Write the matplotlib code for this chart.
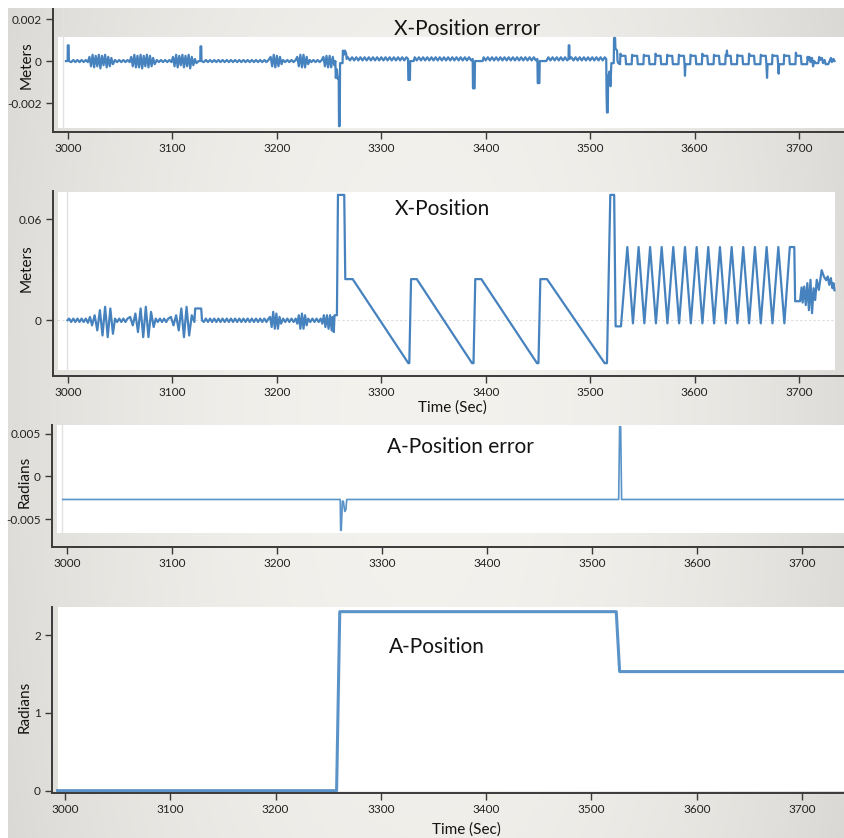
import numpy as np
import matplotlib.pyplot as plt
from matplotlib.patches import Rectangle

plt.rcParams['font.family'] = ['Lato', 'DejaVu Sans']
plt.rcParams['axes.unicode_minus'] = False

# ---- data ----
# X-Position error, (time s, error in 1e-4 m)
xerr_pts = [
    (2998.0, 0.0), (2999.6, 0.0), (2999.8, 7.5), (3000.6, 7.5), (3000.8, 0.0),
    (3003, -0.5), (3005, 0.5), (3007, -0.5), (3009, 0.5), (3011, -0.5),
    (3013, 0.5), (3015, -0.5), (3017, 0.5), (3019, -0.5),
    (3020.5, 2.0), (3022, -2.5), (3023.5, 3.0), (3025, -3.0), (3026.5, 2.5),
    (3028, -2.5), (3029.5, 3.0), (3031, -3.5), (3032.5, 2.5), (3034, -2.0),
    (3035.5, 3.0), (3037, -3.0), (3038.5, 2.0), (3040, -2.5), (3041.5, 1.5),
    (3043, -1.5),
    (3045, 0.5), (3047, -0.5), (3049, 0.5), (3051, -0.5), (3053, 0.5),
    (3055, -0.5), (3057, 0.5), (3059, -0.5),
    (3060.5, 2.0), (3062, -2.5), (3063.5, 3.0), (3065, -3.0), (3066.5, 2.5),
    (3068, -3.0), (3069.5, 3.0), (3071, -3.5), (3072.5, 2.5), (3074, -2.5),
    (3075.5, 3.0), (3077, -3.0), (3078.5, 2.5), (3080, -2.5), (3081.5, 1.5),
    (3083, -1.5),
    (3085, 0.5), (3087, -0.5), (3089, 0.5), (3091, -0.5), (3093, 0.5),
    (3095, -0.5), (3097, 0.5), (3099, -0.5),
    (3100.5, 2.0), (3102, -2.5), (3103.5, 3.0), (3105, -3.0), (3106.5, 2.5),
    (3108, -2.0), (3109.5, 3.0), (3111, -3.0), (3112.5, 2.5), (3114, -2.5),
    (3115.5, 3.0), (3117, -3.5), (3118.5, 2.0), (3120, -2.0), (3121.5, 1.0),
    (3123, -1.0), (3125, 0.0),
    (3126.6, 0.0), (3126.8, 7.0), (3127.6, 7.0), (3127.8, 0.0),
    (3130, -0.5), (3132, 0.5), (3134, -0.5), (3136, 0.5), (3138, -0.5),
    (3140, 0.5), (3142, -0.5), (3144, 0.5), (3146, -0.5), (3148, 0.5),
    (3150, -0.5), (3152, 0.5), (3154, -0.5), (3156, 0.5), (3158, -0.5),
    (3160, 0.5), (3162, -0.5), (3164, 0.5), (3166, -0.5), (3168, 0.5),
    (3170, -0.5), (3172, 0.5), (3174, -0.5), (3176, 0.5), (3178, -0.5),
    (3180, 0.5), (3182, -0.5), (3184, 0.5), (3186, -0.5), (3188, 0.5),
    (3190, -0.5), (3192, 0.5),
    (3194, 2.0), (3195.5, -2.5), (3197, 3.0), (3198.5, -3.0), (3200, 2.5),
    (3201.5, -2.5), (3203, 2.0), (3204.5, -1.5), (3206, 0.5),
    (3208, -0.5), (3210, 0.5), (3212, -0.5), (3214, 0.5), (3216, -0.5), (3218, 0.5),
    (3219.5, 2.0), (3221, -2.5), (3222.5, 3.0), (3224, -3.0), (3225.5, 3.0),
    (3227, -3.0), (3228.5, 2.0), (3230, -1.5), (3231.5, 0.5),
    (3233, -0.5), (3235, 0.5), (3237, -0.5), (3239, 0.5), (3241, -0.5), (3243, 0.5),
    (3244.5, 2.0), (3246, -2.5), (3247.5, 2.5), (3249, -3.0), (3250.5, 2.5),
    (3252, -3.0), (3253.5, 2.0), (3255, -2.0), (3256, 0.0),
    (3256.4, -8.0), (3257.5, -4.0), (3258.3, -8.5), (3259.2, -8.0), (3259.5, -31.0),
    (3260.2, -31.0), (3260.5, -1.0), (3262.9, -1.0), (3263.2, 5.0), (3264.2, 3.0),
    (3265.2, 5.0), (3266.4, 3.5), (3266.8, 1.0),
    (3268, 1.8), (3270, 0.3), (3272, 1.8), (3274, 0.3), (3276, 1.8), (3278, 0.3),
    (3280, 1.8), (3282, 0.3), (3284, 1.8), (3286, 0.3), (3288, 1.8), (3290, 0.3),
    (3292, 1.8), (3294, 0.3), (3296, 1.8), (3298, 0.3), (3300, 1.8), (3302, 0.3),
    (3304, 1.8), (3306, 0.3), (3308, 1.8), (3310, 0.3), (3312, 1.8), (3314, 0.3),
    (3316, 1.8), (3318, 0.3), (3320, 1.8), (3322, 0.3), (3324, 1.8),
    (3325.6, 1.0), (3325.9, -9.0), (3327.4, -9.0), (3327.7, 0.0), (3331, 0.0),
    (3332, 1.8), (3334, 0.3), (3336, 1.8), (3338, 0.3), (3340, 1.8), (3342, 0.3),
    (3344, 1.8), (3346, 0.3), (3348, 1.8), (3350, 0.3), (3352, 1.8), (3354, 0.3),
    (3356, 1.8), (3358, 0.3), (3360, 1.8), (3362, 0.3), (3364, 1.8), (3366, 0.3),
    (3368, 1.8), (3370, 0.3), (3372, 1.8), (3374, 0.3), (3376, 1.8), (3378, 0.3),
    (3380, 1.8), (3382, 0.3), (3384, 1.8), (3386, 0.3),
    (3387.5, 1.0), (3387.8, -13.0), (3389.4, -13.0), (3389.7, 0.0), (3397, 0.0),
    (3398, 1.8), (3400, 0.3), (3402, 1.8), (3404, 0.3), (3406, 1.8), (3408, 0.3),
    (3410, 1.8), (3412, 0.3), (3414, 1.8), (3416, 0.3), (3418, 1.8), (3420, 0.3),
    (3422, 1.8), (3424, 0.3), (3426, 1.8), (3428, 0.3), (3430, 1.8), (3432, 0.3),
    (3434, 1.8), (3436, 0.3), (3438, 1.8), (3440, 0.3), (3442, 1.8), (3444, 0.3),
    (3446, 1.8), (3448, 0.3),
    (3449.5, 1.0), (3449.8, -10.5), (3451.4, -10.5), (3451.7, 0.0), (3458, 0.0),
    (3460, 1.8), (3462, 0.3), (3464, 1.8), (3466, 0.3), (3468, 1.8), (3470, 0.3),
    (3472, 1.8), (3474, 0.3), (3476, 1.8), (3478, 0.3),
    (3479.3, 1.0), (3479.5, 7.5), (3480.1, 7.5), (3480.3, 1.0),
    (3482, 1.8), (3484, 0.3), (3486, 1.8), (3488, 0.3), (3490, 1.8), (3492, 0.3),
    (3494, 1.8), (3496, 0.3), (3498, 1.8), (3500, 0.3), (3502, 1.8), (3504, 0.3),
    (3506, 1.8), (3508, 0.3), (3510, 1.8), (3512, 0.3), (3514, 1.8),
    (3515.4, 1.0), (3515.7, -15.0), (3516.1, -24.5), (3516.9, -24.5), (3517.2, -8.0),
    (3518.5, -5.0), (3519.5, -12.0), (3520.3, -1.0), (3522.6, -1.0), (3522.9, 11.0),
    (3523.9, 11.0), (3524.2, 6.0), (3525.8, 5.0), (3526.2, 0.0),
    (3527, -1.0), (3528.6, -1.5),
    (3529.0, 3.5), (3529.8, 2.5), (3533.8, 2.5), (3534.4, -1.5), (3539.8, -1.5),
    (3540.2, 3.0), (3541.0, 2.5), (3545.0, 2.5), (3545.6, -1.5), (3551.0, -1.5),
    (3551.4, 3.0), (3552.2, 2.5), (3556.2, 2.5), (3556.8, -1.5), (3562.2, -1.5),
    (3562.6, 3.5), (3563.4, 2.5), (3567.4, 2.5), (3568.0, -1.5), (3573.4, -1.5),
    (3573.8, 3.0), (3574.6, 2.5), (3578.6, 2.5), (3579.2, -1.5), (3584.6, -1.5),
    (3585.0, 3.0), (3585.8, 2.5), (3589.8, 2.5), (3590.4, -1.5), (3590.8, -7.0),
    (3591.3, -1.5), (3595.8, -1.5),
    (3596.2, 3.0), (3597.0, 2.5), (3601.0, 2.5), (3601.6, -1.5), (3607.0, -1.5),
    (3607.4, 3.5), (3608.2, 2.5), (3612.2, 2.5), (3612.8, -1.5), (3618.2, -1.5),
    (3618.6, 3.0), (3619.4, 2.5), (3623.4, 2.5), (3624.0, -1.5), (3629.4, -1.5),
    (3629.8, 3.0), (3630.6, 2.5), (3631.0, 5.0), (3631.4, 2.5), (3634.6, 2.5),
    (3635.2, -1.5), (3640.6, -1.5),
    (3641.0, 3.0), (3641.8, 2.5), (3645.8, 2.5), (3646.4, -1.5), (3651.8, -1.5),
    (3652.2, 3.5), (3653.0, 2.5), (3657.0, 2.5), (3657.6, -1.5), (3663.0, -1.5),
    (3663.4, 3.0), (3664.2, 2.5), (3668.2, 2.5), (3668.8, -1.5), (3669.4, -8.0),
    (3669.9, -1.5), (3674.2, -1.5),
    (3674.6, 3.0), (3675.4, 2.5), (3679.4, 2.5), (3680.0, -1.5), (3680.5, -6.0),
    (3681.0, -1.5), (3685.4, -1.5),
    (3685.8, 3.0), (3686.6, 2.5), (3690.6, 2.5), (3691.2, -1.5), (3696.6, -1.5),
    (3697.0, 4.0), (3697.8, 2.5), (3701.8, 2.5), (3702.4, -1.5), (3707.8, -1.5),
    (3708.2, 2.0), (3709.0, 0.5), (3710.0, 2.0), (3711.0, -0.5), (3712.5, 1.5),
    (3713.5, -2.5), (3714.5, 0.0), (3716.0, -1.0), (3718.5, -1.0),
    (3719.4, 2.0), (3720.2, 0.5), (3722.0, 1.5), (3723.0, -1.0), (3724.5, 0.5),
    (3725.5, -1.5), (3728.0, -1.5), (3730.6, 1.5), (3731.5, -0.5), (3733.0, 1.0),
    (3734.0, 0.0),
]

# X-Position, (time s, position in mm)
xpos_pts = [
    (2999.5, 0.0), (3001, 1), (3003, -1), (3005, 1), (3007, -1), (3009, 1),
    (3011, -1), (3013, 1), (3015, -1), (3017, 1), (3019, -1.5),
    (3021, 2), (3023, -3), (3025.5, 3), (3028, -6), (3030.5, 6), (3033, -9),
    (3035.5, 8), (3038, -10), (3040.5, 7), (3043, -8), (3045, 1),
    (3047, -1), (3049, 1), (3051, -1), (3053, 1), (3055, -1), (3057, 1),
    (3059.5, 2), (3062, -3), (3064.5, 4), (3067, -7), (3069.5, 7), (3072, -10),
    (3074.5, 8), (3077, -10), (3079.5, 5), (3082, -4), (3084, 1),
    (3086, -1), (3088, 1), (3090, -1), (3092, 1), (3094, -1), (3096, 1),
    (3098.5, 2), (3101, -3), (3103.5, 3), (3106, -6), (3108.5, 7), (3111, -10),
    (3113.5, 8), (3116, -9), (3118.5, 3), (3121, -1),
    (3121.8, 7), (3127.5, 7), (3128.3, 0),
    (3130, -1), (3132, 1), (3134, -1), (3136, 1), (3138, -1), (3140, 1),
    (3142, -1), (3144, 1), (3146, -1), (3148, 1), (3150, -1), (3152, 1),
    (3154, -1), (3156, 1), (3158, -1), (3160, 1), (3162, -1), (3164, 1),
    (3166, -1), (3168, 1), (3170, -1), (3172, 1), (3174, -1), (3176, 1),
    (3178, -1), (3180, 1), (3182, -1), (3184, 1), (3186, -1), (3188, 1),
    (3190, -1), (3192, 1),
    (3193.5, 2), (3195, -4), (3196.5, 5), (3198, -5), (3199.5, 4), (3201, -5),
    (3202.5, 2), (3204, -2),
    (3206, 1), (3208, -1), (3210, 1), (3212, -1), (3214, 1), (3216, -1), (3218, 1),
    (3219.5, -2), (3221, 3), (3222.5, -5), (3224, 4), (3225.5, -5), (3227, 3),
    (3228.5, -3), (3230, 1),
    (3232, -1), (3234, 1), (3236, -1), (3238, 1), (3240, -1), (3242, 1),
    (3243.5, -2), (3245, 3), (3246.5, -4), (3248, 3), (3249.5, -5), (3251, 3),
    (3252.5, -6), (3253.5, 2), (3254.5, -7),
    (3255.2, 3), (3257.5, 3), (3258.5, 74.3), (3264.5, 74.3), (3265.5, 24.4),
    (3272.6, 24.4), (3325.9, -25.4), (3326.8, -25.4), (3328.5, 24.4),
    (3334.0, 24.4), (3386.9, -25.4), (3388.3, -25.4), (3390.0, 24.4),
    (3395.8, 24.4), (3449.1, -25.4), (3450.5, -25.4), (3452.3, 24.4),
    (3458.7, 24.4), (3513.9, -25.4), (3516.1, -25.4), (3519.3, 74.3),
    (3523.0, 74.3), (3524.4, -3.6), (3529.5, -3.6),
    (3535.6, 43.4), (3541.0, -1.8), (3546.4, 43.4), (3551.9, -1.8),
    (3557.4, 43.4), (3563.0, -1.8), (3568.5, 43.4), (3574.0, -1.8),
    (3579.6, 43.4), (3585.2, -1.8), (3590.8, 43.4), (3596.4, -1.8),
    (3602.0, 43.4), (3607.5, -1.8), (3613.1, 43.4), (3618.7, -1.8),
    (3624.3, 43.4), (3629.9, -1.8), (3635.5, 43.4), (3641.0, -1.8),
    (3646.6, 43.4), (3652.2, -1.8), (3657.8, 43.4), (3663.4, -1.8),
    (3669.0, 43.4), (3674.6, -1.8), (3680.2, 43.4), (3686.0, -1.8),
    (3691.2, 43.4), (3695.5, 43.4), (3696.3, 11.3), (3701.0, 11.3),
    (3702.5, 19.5), (3703.5, 10.5), (3705, 20), (3706.5, 9), (3708, 22),
    (3709.5, 6), (3711, 24), (3712.5, 4.2), (3714, 19), (3715.5, 12),
    (3717, 24), (3719, 18), (3721.7, 29.7), (3724, 25.7), (3726, 23.8),
    (3727.5, 26), (3729, 21), (3730.5, 25), (3732, 19), (3733, 22), (3734, 17.8),
]

# A-Position error, (time s, radians)
aerr_pts = [
    (2996, -0.0027), (3260.2, -0.0027), (3260.6, -0.0063), (3261.2, -0.0063),
    (3262.3, -0.0029), (3263.2, -0.0029), (3264.5, -0.0041), (3265.6, -0.0039),
    (3266.4, -0.0027), (3525.4, -0.0027), (3526.3, 0.0058), (3527.3, 0.0058),
    (3528.2, -0.0027), (3745, -0.0027),
]

# A-Position, (time s, radians)
apos_pts = [
    (2993, 0.0), (3258, 0.0), (3261, 2.30), (3523.6, 2.30), (3526.8, 1.53), (3745, 1.53),
]

time_ticks = [3000, 3100, 3200, 3300, 3400, 3500, 3600, 3700]

W, H = 844, 838
fig = plt.figure(figsize=(W / 100, H / 100), dpi=100)


def frac(left, top, right, bottom):
    return [left / W, 1 - bottom / H, (right - left) / W, (bottom - top) / H]


# grey slide background with a soft vignette
bg = fig.add_axes([0, 0, 1, 1], zorder=-10)
gx = np.linspace(-1, 1, 300)
gy = np.linspace(-1, 1, 300)
GX, GY = np.meshgrid(gx, gy)
v = 0.955 - 0.085 * GX ** 2 - 0.015 * GY ** 2
bg.imshow(np.dstack([v, v * 0.993, v * 0.975]), extent=[0, 1, 0, 1], aspect='auto')
bg.axis('off')
fig.add_artist(Rectangle((0, 1 - 8 / H), 1, 8 / H, transform=fig.transFigure,
                         facecolor='white', edgecolor='none', zorder=-9))
fig.add_artist(Rectangle((0, 0), 8 / W, 1, transform=fig.transFigure,
                         facecolor='white', edgecolor='none', zorder=-9))


def panel(box, white, xlim, ylim, yticks, ylabels):
    ax = fig.add_axes(frac(*box))
    ax.patch.set_alpha(0)
    l, t, r, b = white
    fig.add_artist(Rectangle((l / W, 1 - b / H), (r - l) / W, (b - t) / H,
                             transform=fig.transFigure, facecolor='white',
                             edgecolor='none', zorder=-5))
    ax.set_xlim(*xlim)
    ax.set_ylim(*ylim)
    ax.set_xticks(time_ticks)
    ax.set_xticklabels([str(t) for t in time_ticks])
    ax.set_yticks(yticks)
    ax.set_yticklabels(ylabels)
    for s in ['top', 'right']:
        ax.spines[s].set_visible(False)
    for s in ['left', 'bottom']:
        ax.spines[s].set_color('#3a3a3a')
        ax.spines[s].set_linewidth(1.4)
    ax.tick_params(direction='out', length=5, width=1, color='#3a3a3a',
                   labelsize=8.5, labelcolor='#222222', pad=3)
    return ax


line_color = '#4682be'

# X-Position error
ax1 = panel((53, 9, 844, 132), (58, 37, 844, 128), (2985.6, 3743.1),
            (-0.00338, 0.00248), [-0.002, 0, 0.002], ['-0.002', '0', '0.002'])
ax1.axvline(2995.2, color='#e2e2e2', lw=1)
t1, v1 = zip(*xerr_pts)
ax1.plot(t1, np.array(v1) * 1e-4, color=line_color, lw=1.6)

# X-Position
ax2 = panel((53, 191, 844, 376), (58, 192, 835, 370), (2985.6, 3743.1),
            (-0.0330, 0.0766), [0, 0.06], ['0', '0.06'])
ax2.axvline(2999.0, color='#e2e2e2', lw=1)
ax2.axhline(0, color='#dcdcdc', lw=0.8, ls=(0, (2, 2)))
t2, v2 = zip(*xpos_pts)
ax2.plot(t2, np.array(v2) * 1e-3, color=line_color, lw=1.6)

# A-Position error
ax3 = panel((52, 425, 844, 547), (57, 425, 844, 533), (2985.7, 3740.0),
            (-0.00825, 0.0060), [-0.005, 0, 0.005], ['-0.005', '0', '0.005'])
ax3.axvline(2995.2, color='#e2e2e2', lw=1)
t3, v3 = zip(*aerr_pts)
ax3.plot(t3, v3, color='#5a93c8', lw=1.2)

# A-Position
ax4 = panel((52, 607, 844, 793), (58, 607, 844, 791), (2987.7, 3739.9),
            (-0.03, 2.36), [0, 1, 2], ['0', '1', '2'])
t4, v4 = zip(*apos_pts)
ax4.plot(t4, v4, color='#5a93c8', lw=2.2)

# titles and axis labels (positions in screenshot pixels)
def label(x, y, s, size, rot=0):
    fig.text(x / W, 1 - y / H, s, fontsize=size, rotation=rot,
             ha='center', va='center', color='#141414')


label(467, 29, 'X-Position error', 15)
label(442, 209, 'X-Position', 15)
label(460, 447, 'A-Position error', 15)
label(437, 647, 'A-Position', 15)
label(27, 65, 'Meters', 11, 90)
label(27, 268, 'Meters', 11, 90)
label(25, 482, 'Radians', 11, 90)
label(25, 707, 'Radians', 11, 90)
label(452, 408, 'Time (Sec)', 11)
label(466, 830, 'Time (Sec)', 11)

fig.savefig('out.png', dpi=100)
